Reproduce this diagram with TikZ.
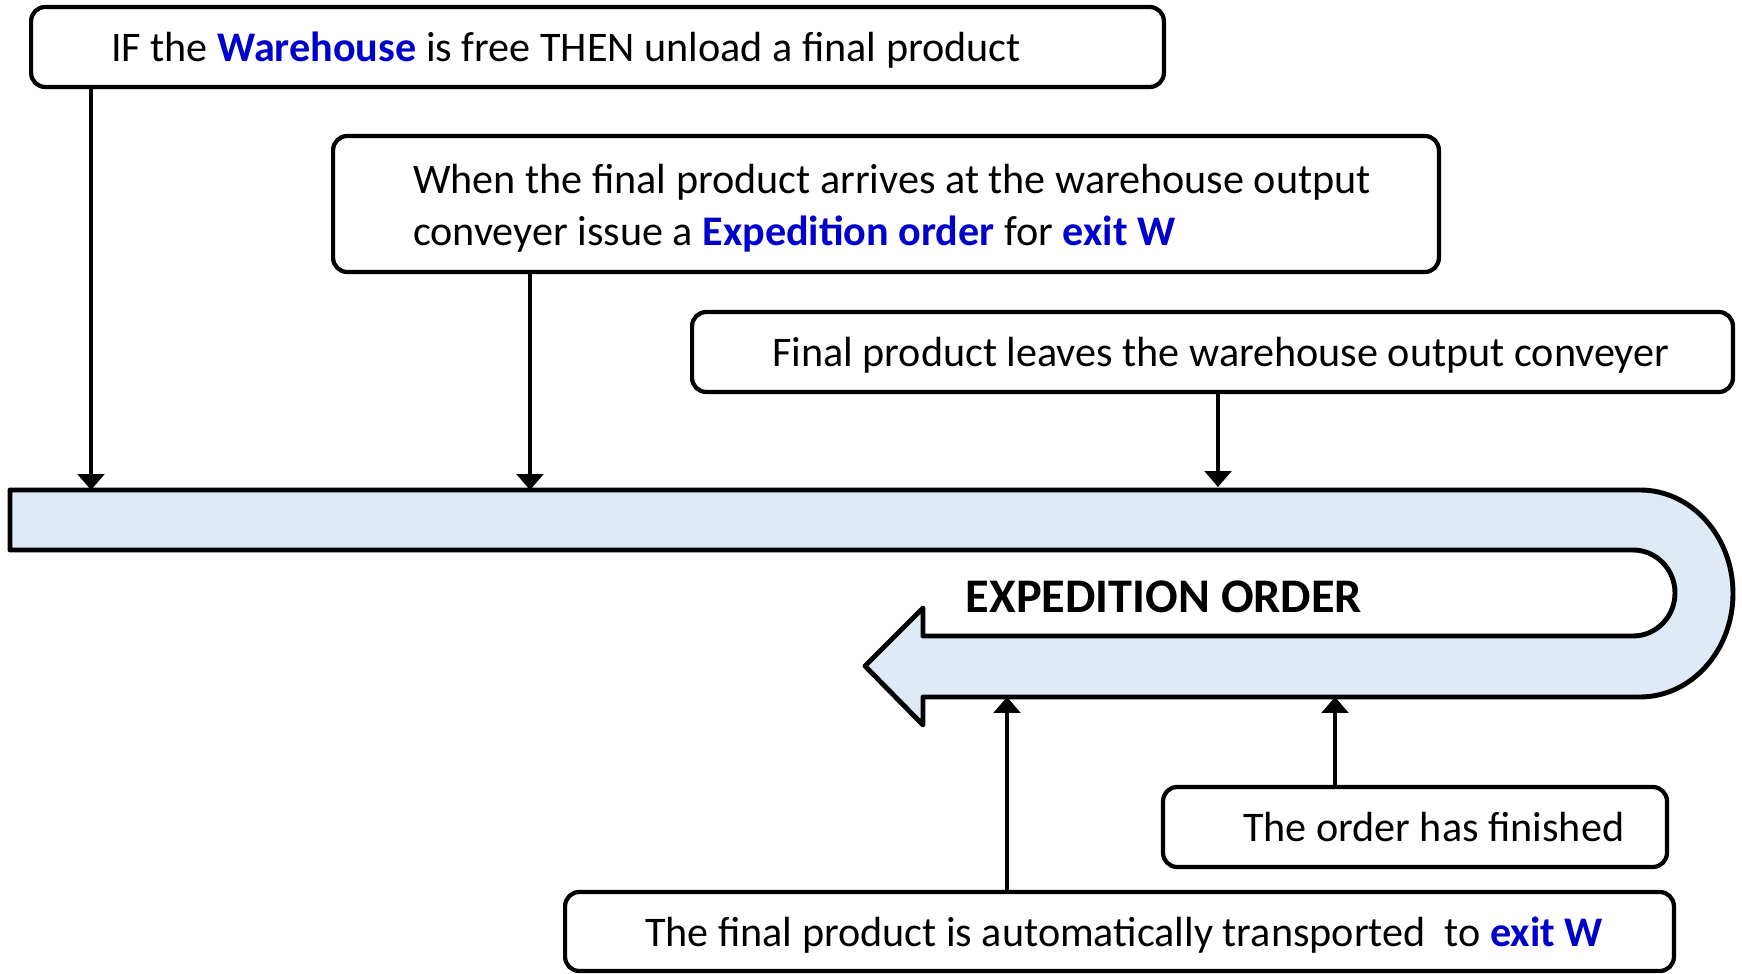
\documentclass[tikz,border=0pt]{standalone}
\usepackage{fontspec}
\setmainfont{Carlito}
\usepackage{tikz}
\usetikzlibrary{arrows.meta, calc, positioning}
\usepackage{xcolor}
\definecolor{exitblue}{RGB}{0, 0, 205}
\definecolor{bandblue}{RGB}{222, 234, 246}

\newcommand{\kw}[1]{\textcolor{exitblue}{\textbf{#1}}}

\begin{document}
\begin{tikzpicture}[x=0.02cm, y=0.02cm, line cap=round, line join=round,
	event/.style={draw, line width=2.4pt, rounded corners=8pt, inner xsep=1.6cm, inner ysep=0pt, text depth=0pt, align=flush left, font=\fontsize{24}{30}\selectfont},
	flow/.style={line width=2pt, -{Triangle[length=9pt,width=15pt]}}]
	\useasboundingbox (0,0) rectangle (1742,974);

	% the expedition order band
	\draw[line width=2.8pt, fill=bandblue] (10,484) -- (1640,484)
		arc[start angle=90, end angle=-90, x radius=93, y radius=103.5]
		-- (923,277) -- (923,249) -- (865,308) -- (923,366) -- (923,338) -- (1633,338)
		arc[start angle=-90, end angle=90, x radius=42, y radius=43]
		-- (10,424) -- cycle;
	\node[font=\fontsize{27.5}{30}\selectfont\bfseries] (order) at (1164,377) {EXPEDITION ORDER};

	% points where the events meet the band
	\coordinate (q1) at (91,484);
	\coordinate (q2) at (530,484);
	\coordinate (q3) at (1218,487);
	\coordinate (q4) at (1007,277);
	\coordinate (q5) at (1335,277);

	% events
	\node[event, text width=19.46cm, minimum height=1.6cm] (unload) at (597.5,927) {\mbox{IF the \kw{Warehouse} is free THEN unload a final product}};
	\node[event, text width=18.92cm, text depth=29pt, minimum height=2.72cm] (issue) at (886,770) {\mbox{When the final product arrives at the warehouse output}\\\mbox{conveyer issue a \kw{Expedition order} for \kw{exit W}}};
	\node[event, text width=17.62cm, minimum height=1.6cm] (leaves) at (1212.5,622) {\mbox{Final product leaves the warehouse output conveyer}};
	\node[event, text width=6.88cm, minimum height=1.6cm] (finished) at (1415,147) {\mbox{The order has finished}};
	\node[event, text width=18.98cm, minimum height=1.58cm] (transport) at (1119.5,42.5) {\mbox{The final product is automatically transported\ \ to \kw{exit W}}};

	\draw[flow] (unload.south -| q1) -- (q1);
	\draw[flow] (issue.south -| q2) -- (q2);
	\draw[flow] (leaves.south -| q3) -- (q3);
	\draw[flow] (transport.north -| q4) -- (q4);
	\draw[flow] (finished.north -| q5) -- (q5);

\end{tikzpicture}
\end{document}
